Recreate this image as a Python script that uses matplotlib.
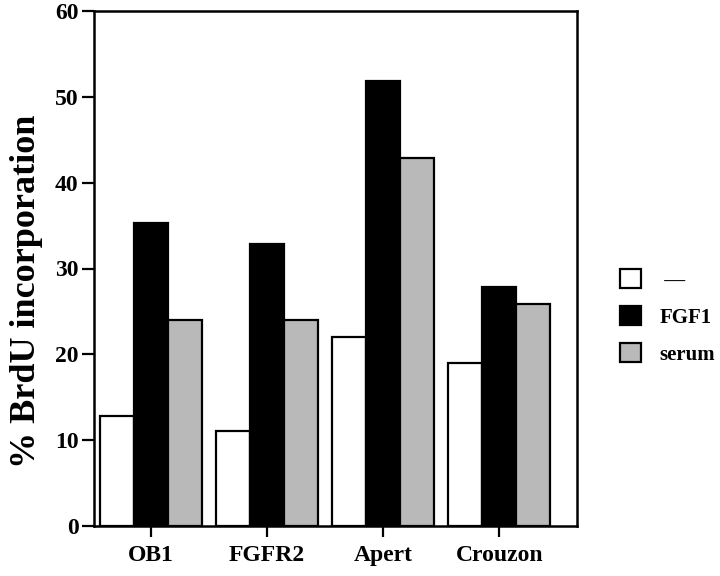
"""% BrdU incorporation per cell line, grouped bars for three treatments."""
import matplotlib
matplotlib.use("Agg")
import matplotlib.pyplot as plt
import numpy as np
from matplotlib.patches import Patch

groups = ["OB1", "FGFR2", "Apert", "Crouzon"]
treatments = [" \u2014", "FGF1", "serum"]
none_vals = [12.8, 11.1, 22.0, 19.0]
fgf1_vals = [35.3, 32.9, 51.9, 27.9]
serum_vals = [24.0, 24.0, 42.9, 25.9]
y_ticks = [0, 10, 20, 30, 40, 50, 60]

colors = ["white", "black", "#b9b9b9"]

plt.rcParams["font.family"] = ["Liberation Serif", "DejaVu Serif"]
plt.rcParams["font.weight"] = "bold"

fig = plt.figure(figsize=(7.2, 5.76), dpi=100)
ax = fig.add_axes([94 / 720, 1 - 526 / 576, (577 - 94) / 720, (526 - 11) / 576])

x = np.arange(len(groups))
w = 0.293
for i, (vals, c) in enumerate(zip([none_vals, fgf1_vals, serum_vals], colors)):
    ax.bar(x + (i - 1) * w, vals, width=w, color=c, edgecolor="black",
           linewidth=1.6, zorder=2)

ax.set_xlim(-0.49, 3.67)
ax.set_ylim(0, 60)
ax.set_yticks(y_ticks)
ax.set_xticks(x)
ax.set_xticklabels(groups, fontsize=17, fontweight="bold")
ax.set_yticklabels([str(t) for t in y_ticks], fontsize=17, fontweight="bold")
ax.tick_params(axis="y", direction="out", length=9, width=1.6, pad=2)
ax.tick_params(axis="x", direction="out", length=8, width=1.6, pad=6)
for s in ax.spines.values():
    s.set_linewidth(1.8)

ax.set_ylabel("% BrdU incorporation", fontsize=26, fontweight="bold")
ax.yaxis.set_label_coords(-0.105, 0.455)

handles = [Patch(facecolor=c, edgecolor="black", linewidth=1.6) for c in colors]
fig.legend(handles, treatments, loc="center left",
           bbox_to_anchor=(601 / 720, 1 - 317 / 576), frameon=False,
           handlelength=1.0, handleheight=1.0,
           labelspacing=0.75, handletextpad=0.9,
           prop={"weight": "bold", "size": 15})

fig.savefig("out.png", dpi=100)
